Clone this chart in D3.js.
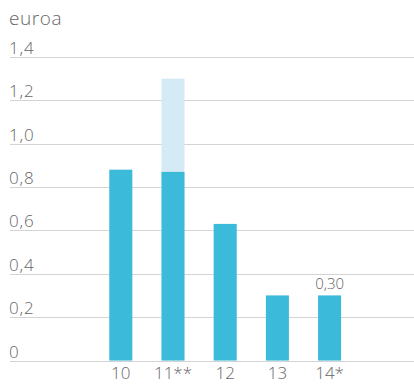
<!DOCTYPE html>
<html><head><meta charset="utf-8">
<script src="https://cdn.jsdelivr.net/npm/d3@7"></script>
<style>
html,body{margin:0;padding:0;background:#fff;}
svg{display:block;}
text{font-family:"Open Sans","Lato",sans-serif;font-weight:300;fill:#666;}
</style></head>
<body>
<svg id="c" width="414" height="385"></svg>
<script>
const categories = ["10", "11**", "12", "13", "14*"];
const baseValues = [0.88, 0.87, 0.63, 0.30, 0.30];
const totalValues = [0.88, 1.30, 0.63, 0.30, 0.30];
const yTicks = [0, 0.2, 0.4, 0.6, 0.8, 1.0, 1.2, 1.4];
const valueLabels = [null, null, null, null, "0,30"];
const unitLabel = "euroa";

const svg = d3.select("#c");
const y = d3.scaleLinear().domain([0, 1.4]).range([360.5, 57]);
const x = d3.scaleBand().domain(categories).range([94.7, 355.7]).paddingInner(0.56).paddingOuter(0.28);
const fmt = v => d3.format(".1f")(v).replace(".", ",");

// grid
svg.append("g").selectAll("line").data(yTicks).join("line")
  .attr("x1", 10).attr("x2", 414)
  .attr("y1", d => Math.round(y(d)) + 0.5).attr("y2", d => Math.round(y(d)) + 0.5)
  .attr("stroke", "#d4d4d4").attr("stroke-width", 1.2);

// y labels
svg.append("g").selectAll("text").data(yTicks).join("text")
  .attr("x", 9).attr("y", d => y(d) - 3)
  .attr("font-size", 17).attr("letter-spacing", 0.8)
  .text(d => d === 0 ? "0" : fmt(d));

svg.append("text").attr("x", 9).attr("y", 25).attr("font-size", 19)
  .attr("letter-spacing", 0.6).text(unitLabel);

// light extension bars
svg.append("g").selectAll("rect").data(categories).join("rect")
  .attr("x", d => x(d)).attr("width", x.bandwidth())
  .attr("y", (d, i) => y(totalValues[i]))
  .attr("height", (d, i) => y(0) - y(totalValues[i]))
  .attr("fill", "#d4eaf5");

// base bars
svg.append("g").selectAll("rect").data(categories).join("rect")
  .attr("x", d => x(d)).attr("width", x.bandwidth())
  .attr("y", (d, i) => y(baseValues[i]))
  .attr("height", (d, i) => y(0) - y(baseValues[i]))
  .attr("fill", "#3bbada");

// value labels
svg.append("g").selectAll("text").data(categories).join("text")
  .attr("x", d => x(d) + x.bandwidth() / 2)
  .attr("y", (d, i) => y(totalValues[i]) - 6)
  .attr("text-anchor", "middle").attr("font-size", 15)
  .text((d, i) => valueLabels[i] || "");

// x labels
svg.append("g").selectAll("text").data(categories).join("text")
  .attr("x", d => x(d) + x.bandwidth() / 2)
  .attr("y", 379)
  .attr("text-anchor", "middle").attr("font-size", 17)
  .text(d => d);
</script>
</body></html>
